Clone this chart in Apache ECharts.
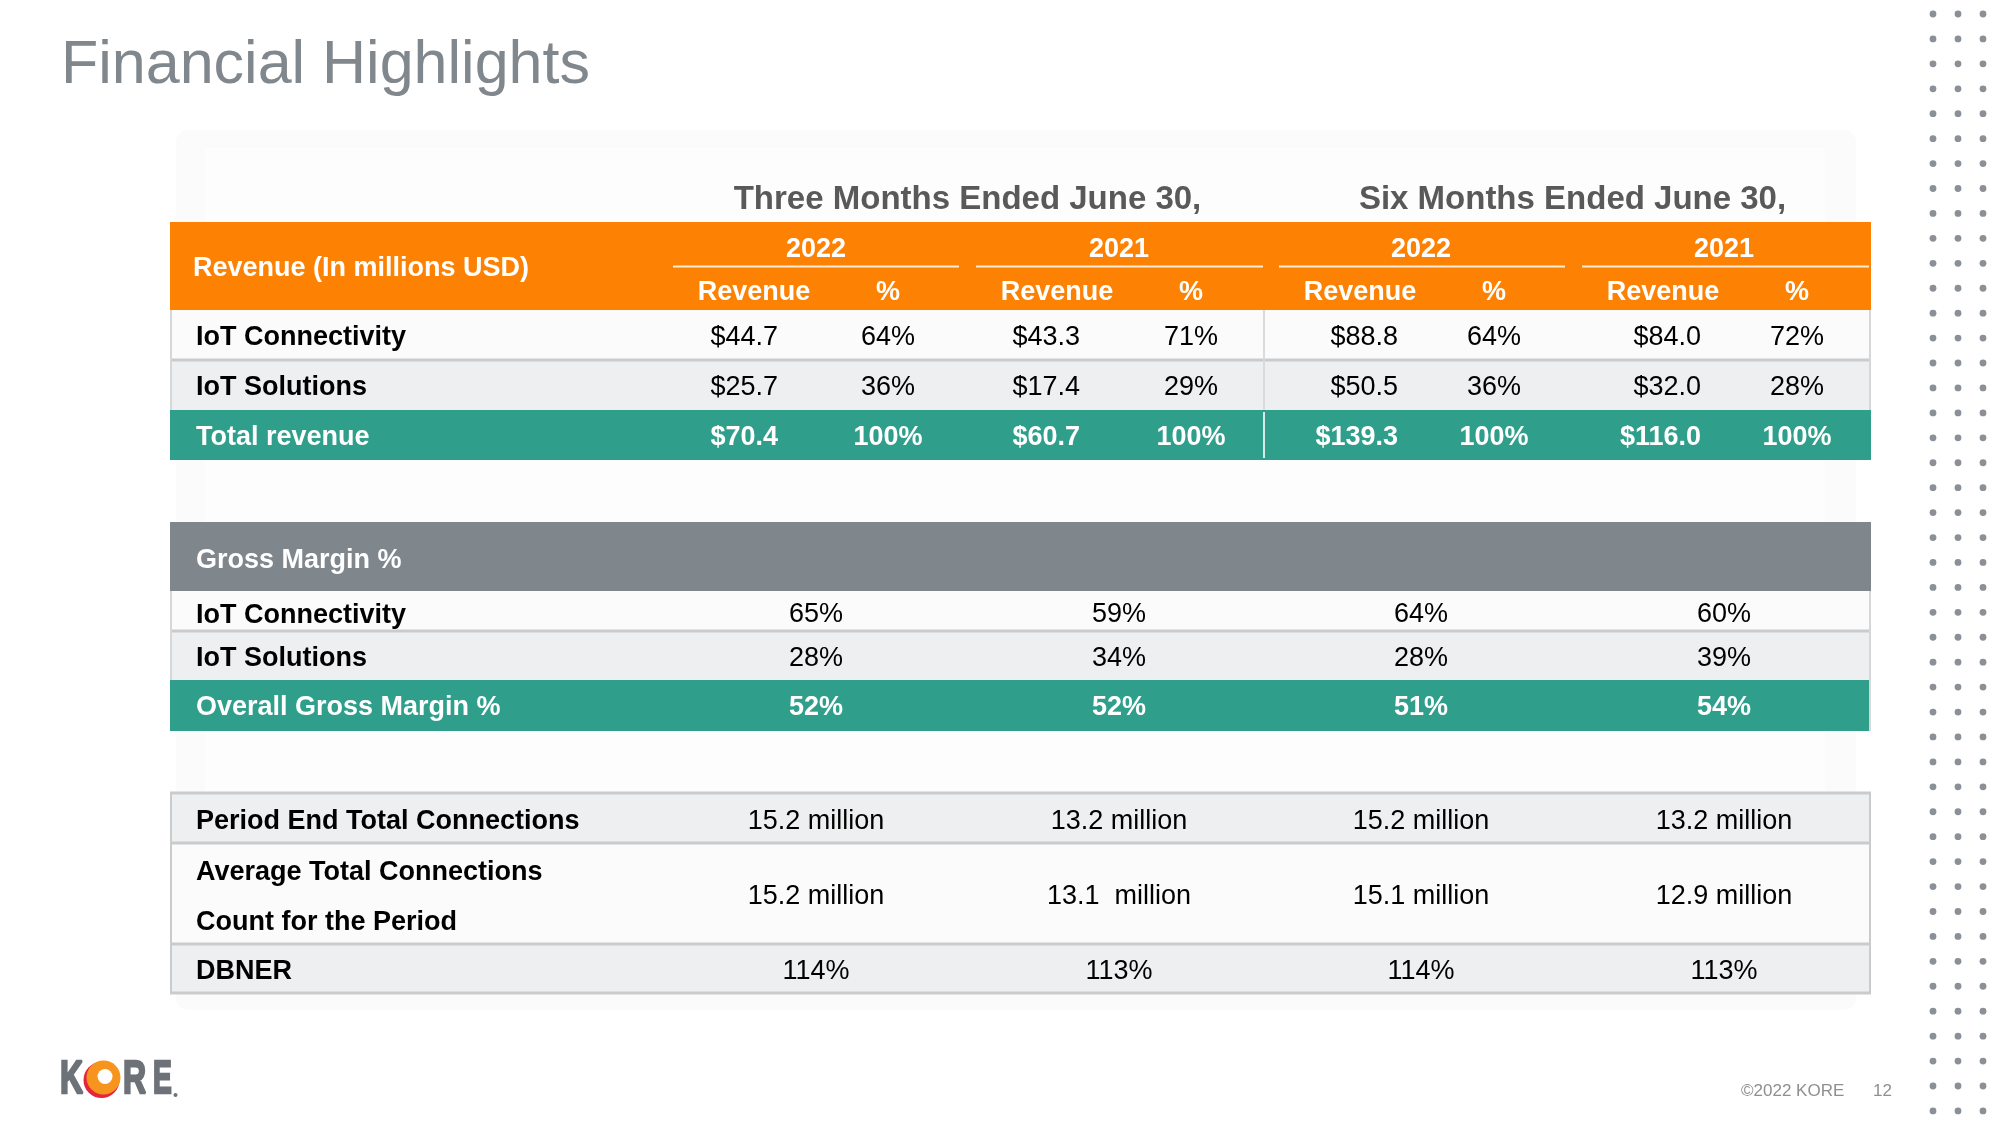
<!DOCTYPE html>
<html><head><meta charset="utf-8">
<script src="https://cdn.jsdelivr.net/npm/echarts@6/dist/echarts.min.js"></script>
<style>html,body{margin:0;padding:0;background:#fff}#c{width:2000px;height:1125px}</style>
</head><body><div id="c"></div><script>
// ---------------- DATA ----------------
const slideTitle = 'Financial Highlights';
const periodHeaders = ['Three Months Ended June 30,', 'Six Months Ended June 30,'];
const years = ['2022', '2021', '2022', '2021'];
const revenueHeader = 'Revenue (In millions USD)';
const revenueSubHeaders = ['Revenue', '%'];
const revenueRowLabels = ['IoT Connectivity', 'IoT Solutions', 'Total revenue'];
const revenueValues = [
  [44.7, 43.3, 88.8, 84.0],
  [25.7, 17.4, 50.5, 32.0],
  [70.4, 60.7, 139.3, 116.0]
];
const revenueShares = [
  [64, 71, 64, 72],
  [36, 29, 36, 28],
  [100, 100, 100, 100]
];
const marginHeader = 'Gross Margin %';
const marginRowLabels = ['IoT Connectivity', 'IoT Solutions', 'Overall Gross Margin %'];
const marginValues = [
  [65, 59, 64, 60],
  [28, 34, 28, 39],
  [52, 52, 51, 54]
];
const kpiRowLabels = ['Period End Total Connections', 'Average Total Connections\nCount for the Period', 'DBNER'];
const kpiValues = [
  ['15.2 million', '13.2 million', '15.2 million', '13.2 million'],
  ['15.2 million', '13.1  million', '15.1 million', '12.9 million'],
  ['114%', '113%', '114%', '113%']
];
const footerText = '\u00a92022 KORE';
const pageNumber = '12';

// ---------------- LAYOUT / STYLE ----------------
const FONT = '"Liberation Sans", Arial, Helvetica, sans-serif';
const C = {
  orange: '#fd8204', teal: '#2f9f8b', gray: '#7f868c', light: '#eeeff0',
  sep: '#c9cbcd', title: '#80878d', dark: '#595959', dot: '#8a9096', logo: '#6d7278'
};
const L = 170, R = 1871, labelX = 196;
const groupCenter = [816, 1119, 1421, 1724];
const revRight = [778, 1080, 1398, 1701];
const revHeadCenter = [754, 1057, 1360, 1663];
const pctCenter = [888, 1191, 1494, 1797];
const underline = [[673, 959], [976, 1263], [1279, 1565], [1582, 1869]];
const revRows = [[310, 360, 338], [360, 410, 388], [410, 460, 438]];
const marRows = [[591, 631, 614.5], [631, 680, 658.5], [680, 731, 708]];
const kpiRows = [[793, 843, 822], [843, 944, 896.5], [944, 993, 972]];
const rowFills = ['#fbfbfb', C.light];

const g = [];
function txt(x, y, s, size, weight, fill, align, extra) {
  g.push(Object.assign({
    type: 'text', x: x, y: y, silent: true,
    style: { text: s, font: (weight || 'normal') + ' ' + size + 'px ' + FONT, fill: fill,
      textAlign: align || 'left', textVerticalAlign: 'middle' }
  }, extra || {}));
}
function rect(x, y, w, h, fill) {
  g.push({ type: 'rect', silent: true, shape: { x: x, y: y, width: w, height: h }, style: { fill: fill } });
}
function line(x1, y1, x2, y2, stroke, w) {
  g.push({ type: 'line', silent: true, shape: { x1: x1, y1: y1, x2: x2, y2: y2 }, style: { stroke: stroke, lineWidth: w } });
}

// faint background panel
g.push({ type: 'rect', silent: true, shape: { x: 176, y: 130, width: 1680, height: 880, r: 12 }, style: { fill: '#fbfbfb' } });
rect(205, 148, 1620, 840, '#fdfdfd');

// title
txt(61, 66, slideTitle, 61, 'normal', C.title);

// period headers
periodHeaders.forEach((p, i) => {
  txt((groupCenter[2 * i] + groupCenter[2 * i + 1]) / 2, 200, p, 33, 'bold', C.dark, 'center');
});

// ---- revenue table ----
rect(L, 222, R - L, 88, C.orange);
txt(193, 269, revenueHeader, 27, 'bold', '#fff');
years.forEach((y, i) => {
  txt(groupCenter[i], 250, y, 27, 'bold', '#fff', 'center');
  line(underline[i][0], 266.5, underline[i][1], 266.5, 'rgba(255,255,255,0.85)', 2);
  txt(revHeadCenter[i], 292.5, revenueSubHeaders[0], 27, 'bold', '#fff', 'center');
  txt(pctCenter[i], 292.5, revenueSubHeaders[1], 27, 'bold', '#fff', 'center');
});
revenueRowLabels.forEach((lab, r) => {
  const [y0, y1, ty] = revRows[r];
  const total = r === revenueRowLabels.length - 1;
  rect(L, y0, R - L, y1 - y0, total ? C.teal : rowFills[r % 2]);
  const col = total ? '#fff' : '#000';
  txt(labelX, ty, lab, 27, 'bold', col);
  revenueValues[r].forEach((v, i) => {
    txt(revRight[i], ty, '$' + v.toFixed(1), 27, total ? 'bold' : 'normal', col, 'right');
    txt(pctCenter[i], ty, revenueShares[r][i] + '%', 27, total ? 'bold' : 'normal', col, 'center');
  });
});
line(L, 360, R, 360, C.sep, 3);
line(1264, 310, 1264, 410, '#d9dadb', 2);
line(1264, 412, 1264, 458, 'rgba(255,255,255,0.8)', 2);
line(L + 1, 310, L + 1, 410, '#d6d7d8', 2);
line(R - 1, 310, R - 1, 410, '#d6d7d8', 2);

// ---- gross margin table ----
rect(L, 522, R - L, 69, C.gray);
txt(196, 560.5, marginHeader, 27, 'bold', '#fff');
marginRowLabels.forEach((lab, r) => {
  const [y0, y1, ty] = marRows[r];
  const total = r === marginRowLabels.length - 1;
  rect(L, y0, R - L, y1 - y0, total ? C.teal : rowFills[r % 2]);
  const col = total ? '#fff' : '#000';
  txt(labelX, ty + (r === 0 ? 1.5 : 0), lab, 27, 'bold', col);
  marginValues[r].forEach((v, i) => {
    txt(groupCenter[i], ty, v + '%', 27, total ? 'bold' : 'normal', col, 'center');
  });
});
line(L, 631, R, 631, C.sep, 3);
line(L + 1, 591, L + 1, 680, '#d6d7d8', 2);
line(R - 1, 591, R - 1, 731, '#d6d7d8', 2);

// ---- KPI table ----
const kpiFills = [C.light, '#fbfbfb', C.light];
kpiRowLabels.forEach((lab, r) => {
  const [y0, y1, ty] = kpiRows[r];
  rect(L, y0, R - L, y1 - y0, kpiFills[r]);
  const lines = lab.split('\n');
  if (lines.length === 1) {
    txt(labelX, ty, lab, 27, 'bold', '#000');
  } else {
    txt(labelX, ty - 24, lines[0], 27, 'bold', '#000');
    txt(labelX, ty + 26, lines[1], 27, 'bold', '#000');
  }
  kpiValues[r].forEach((v, i) => {
    txt(groupCenter[i], ty, v, 27, 'normal', '#000', 'center');
  });
});
[793, 843, 944, 993].forEach(y => line(L, y, R, y, C.sep, 3));
line(L + 1, 793, L + 1, 993, C.sep, 2);
line(R - 1, 793, R - 1, 993, C.sep, 2);

// ---- dots column ----
const dotCols = [1933, 1958, 1983];
for (let k = 0; k < 45; k++) {
  dotCols.forEach(x => g.push({ type: 'circle', silent: true, shape: { cx: x, cy: 14 + k * 24.93, r: 3.4 }, style: { fill: C.dot } }));
}

// ---- footer ----
txt(1741, 1091, footerText, 17, 'normal', '#8f8f8f');
txt(1873, 1091, pageNumber, 17, 'normal', '#8f8f8f');

// ---- logo ----
function logoLetter(x, s, sx) {
  g.push({ type: 'text', x: x, y: 1080, scaleX: sx, silent: true,
    style: { text: s, font: 'bold 47px ' + FONT, fill: C.logo, stroke: C.logo, lineWidth: 2.5,
      textAlign: 'left', textVerticalAlign: 'middle' } });
}
logoLetter(60, 'K', 0.68);
logoLetter(123, 'R', 0.68);
logoLetter(153, 'E', 0.6);
g.push({ type: 'circle', silent: true, shape: { cx: 175.5, cy: 1095, r: 2 }, style: { fill: C.logo } });
g.push({ type: 'circle', silent: true, shape: { cx: 101.5, cy: 1080, r: 18 }, style: { fill: '#e5253d' } });
g.push({ type: 'circle', silent: true, shape: { cx: 103.5, cy: 1077.5, r: 17 }, style: { fill: '#f7941d' } });
g.push({ type: 'circle', silent: true, shape: { cx: 105, cy: 1076.5, r: 7.5 }, style: { fill: '#ffffff' } });

const chart = echarts.init(document.getElementById('c'), null, { renderer: 'canvas' });
chart.setOption({ backgroundColor: '#ffffff', animation: false, graphic: { elements: g } });
</script></body></html>
